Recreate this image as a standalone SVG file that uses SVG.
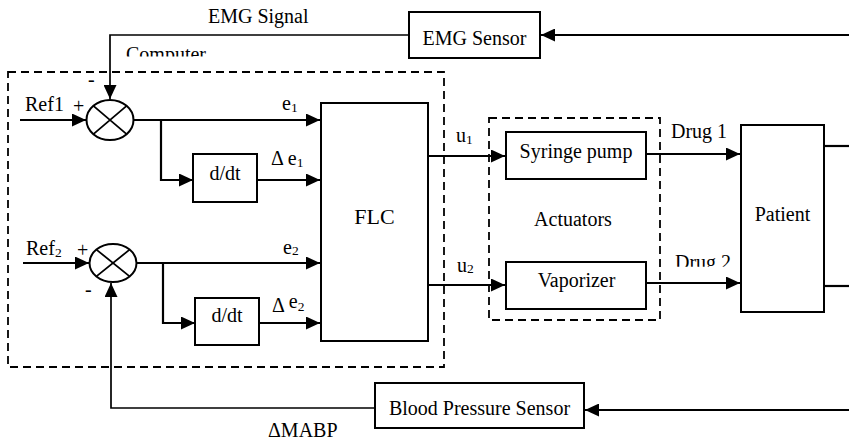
<svg xmlns="http://www.w3.org/2000/svg" width="849" height="440" viewBox="0 0 849 440">
<defs>
<marker id="arr" markerUnits="userSpaceOnUse" markerWidth="14" markerHeight="13" refX="14" refY="6.5" orient="auto">
<path d="M0,0 L14,6.5 L0,13 z" fill="#000"/>
</marker>
<clipPath id="clipComp"><rect x="100" y="30" width="140" height="26.5"/></clipPath>
<clipPath id="clipDrug2"><rect x="660" y="240" width="90" height="26.8"/></clipPath>
<style>
text{font-family:"Liberation Serif","Times New Roman",serif;font-size:20px;fill:#000}
.box{fill:#fff;stroke:#000;stroke-width:2}
.dash{fill:none;stroke:#000;stroke-width:1.8;stroke-dasharray:8,5}
.c{fill:none;stroke:#000;stroke-width:2.2}
.thin{fill:none;stroke:#000;stroke-width:1.7}
.lbl{font-family:"Liberation Serif","Times New Roman",serif;font-size:20px;text-anchor:middle}
.sub{font-size:13.5px}
</style>
</defs>
<rect width="849" height="440" fill="#fff"/>

<g id="computer">
<rect class="dash" x="8" y="72" width="436" height="295"/>
<text x="126" y="61" clip-path="url(#clipComp)">Computer</text>
</g>
<g id="actuators">
<rect class="dash" x="489" y="118" width="171" height="202"/>
<text class="lbl" x="573" y="226">Actuators</text>
</g>

<g id="connectors">
<path class="c" d="M849,35 L541,35" marker-end="url(#arr)"/>
<path class="thin" d="M409,35 L110,35 L110,99" marker-end="url(#arr)"/>
<path class="c" d="M20,120 L86,120" marker-end="url(#arr)"/>
<path class="c" d="M133,120 L320,120" marker-end="url(#arr)"/>
<path class="c" d="M161,120 L161,180 L193,180" marker-end="url(#arr)"/>
<path class="c" d="M257,180 L320,180" marker-end="url(#arr)"/>
<path class="c" d="M23,263 L89,263" marker-end="url(#arr)"/>
<path class="c" d="M137,263 L320,263" marker-end="url(#arr)"/>
<path class="c" d="M163,263 L163,323 L195,323" marker-end="url(#arr)"/>
<path class="c" d="M259,323 L320,323" marker-end="url(#arr)"/>
<path class="c" d="M428,156 L505,156" marker-end="url(#arr)"/>
<path class="c" d="M428,285 L505,285" marker-end="url(#arr)"/>
<path class="c" d="M646,154 L740,154" marker-end="url(#arr)"/>
<path class="c" d="M646,283 L740,283" marker-end="url(#arr)"/>
<path class="c" d="M824,146 L849,146"/>
<path class="c" d="M824,286 L849,286"/>
<path class="c" d="M849,410 L585,410" marker-end="url(#arr)"/>
<path class="thin" d="M375,408 L111,408 L111,283" marker-end="url(#arr)"/>
</g>

<g id="labels">
<text x="208" y="23">EMG Signal</text>
<text x="25" y="111">Ref1</text>
<text x="73" y="113">+</text>
<text x="88" y="86">-</text>
<text x="26" y="255">Ref<tspan class="sub" dy="2">2</tspan></text>
<text x="77" y="256.5">+</text>
<text x="85" y="296">-</text>
<text x="282" y="110">e<tspan class="sub" dy="2">1</tspan></text>
<text x="271" y="165">Δ <tspan>e</tspan><tspan class="sub" dy="2">1</tspan></text>
<text x="283" y="254">e<tspan class="sub" dy="1">2</tspan></text>
<text x="272" y="311.5">Δ <tspan dy="-3.5">e</tspan><tspan class="sub" dy="3">2</tspan></text>
<text x="456" y="141.5">u<tspan class="sub" dy="2">1</tspan></text>
<text x="457" y="271.5">u<tspan class="sub" dy="1">2</tspan></text>
<text x="671" y="138">Drug 1</text>
<text x="675" y="268.6" clip-path="url(#clipDrug2)">Drug 2</text>
<text x="268" y="436.5">ΔMABP</text>
</g>

<g id="sum1">
<ellipse cx="110" cy="120" rx="23.5" ry="20" fill="#fff" stroke="#000" stroke-width="2"/>
<path d="M93.4,105.9 L126.6,134.1 M93.4,134.1 L126.6,105.9" stroke="#000" stroke-width="1.8"/>
</g>
<g id="sum2">
<ellipse cx="113" cy="263" rx="23.5" ry="19" fill="#fff" stroke="#000" stroke-width="2"/>
<path d="M96.4,249.6 L129.6,276.4 M96.4,276.4 L129.6,249.6" stroke="#000" stroke-width="1.8"/>
</g>
<g id="ddt1">
<rect class="box" x="193" y="154" width="64" height="48"/>
<text class="lbl" x="225" y="180">d/dt</text>
</g>
<g id="ddt2">
<rect class="box" x="195" y="298" width="64" height="47"/>
<text class="lbl" x="227" y="322">d/dt</text>
</g>
<g id="flc">
<rect class="box" x="321" y="103" width="107" height="238"/>
<text class="lbl" x="374.5" y="224" style="font-size:22px">FLC</text>
</g>
<g id="syringe">
<rect class="box" x="506" y="132" width="140" height="47"/>
<text class="lbl" x="576" y="158">Syringe pump</text>
</g>
<g id="vaporizer">
<rect class="box" x="506" y="262" width="140" height="47"/>
<text class="lbl" x="576.5" y="287">Vaporizer</text>
</g>
<g id="patient">
<rect class="box" x="741" y="125" width="83" height="187"/>
<text class="lbl" x="782.5" y="220.5">Patient</text>
</g>
<g id="emg">
<rect class="box" x="409" y="12" width="131" height="46"/>
<text class="lbl" x="474.5" y="45">EMG Sensor</text>
</g>
<g id="bps">
<rect class="box" x="375" y="383" width="209" height="45"/>
<text class="lbl" x="479.5" y="415">Blood Pressure Sensor</text>
</g>
</svg>
